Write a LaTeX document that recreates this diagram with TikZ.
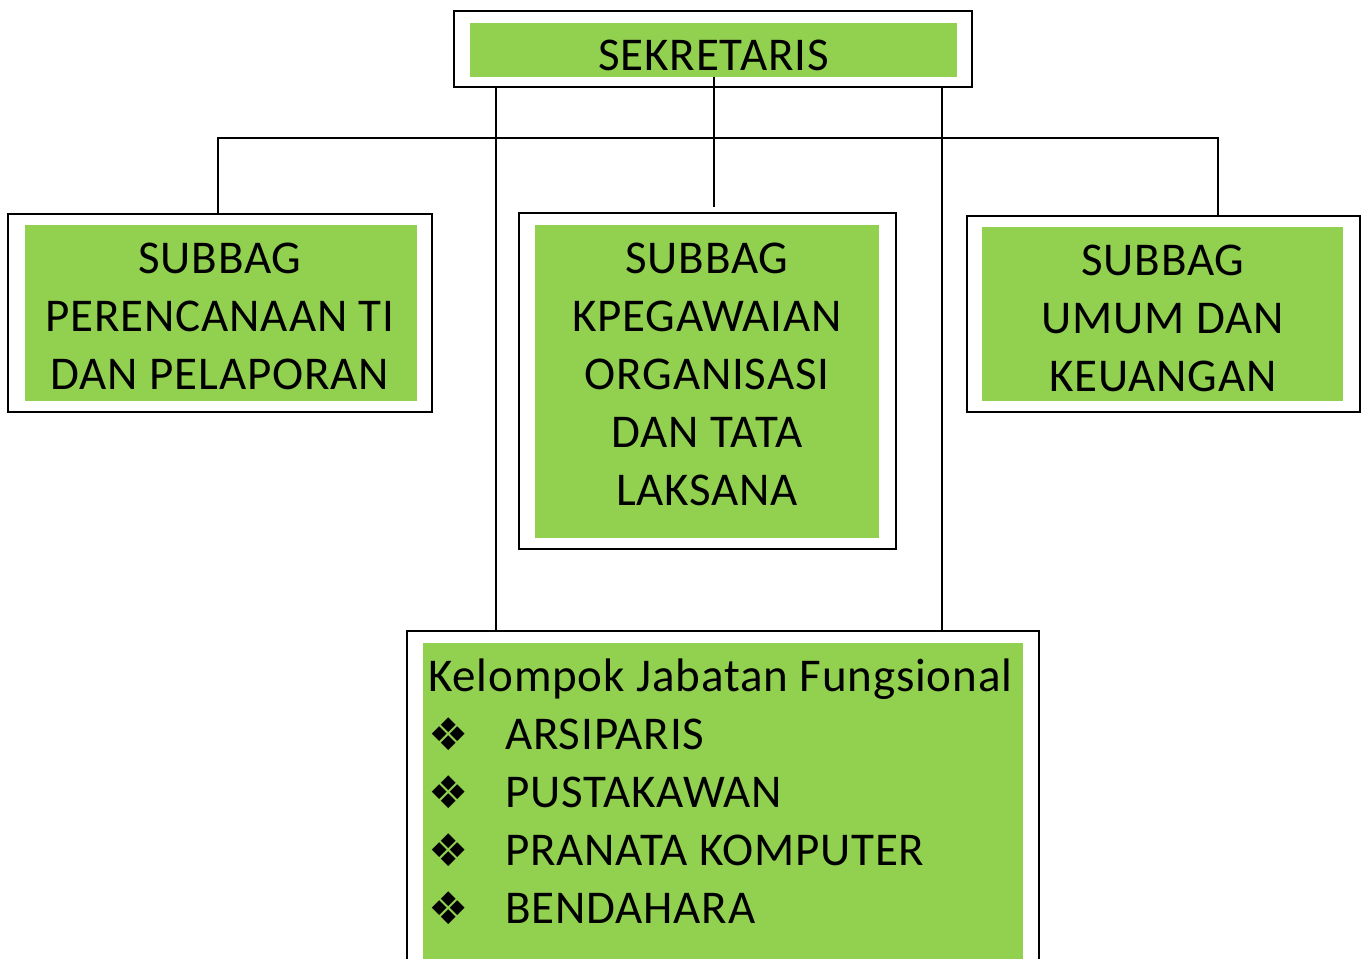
\documentclass[tikz,border=0pt]{standalone}
\usepackage{fontspec}
\setmainfont{Carlito}[LetterSpace=1.8]
\newfontfamily\symfont{DejaVu Sans}
\usetikzlibrary{positioning}
\definecolor{kgreen}{HTML}{92D050}
\newcommand{\orgfont}{\fontsize{47}{58}\selectfont}
\newcommand{\bul}{\makebox[77pt][l]{\raisebox{-1pt}{\symfont\fontsize{45}{45}\selectfont ❖}}}

\begin{document}
\begin{tikzpicture}[x=1pt, y=-1pt,
  frame/.style={draw, line width=2.5pt, inner sep=0pt},
  panel/.style={fill=kgreen, inner sep=0pt},
  boxtext/.style={align=center, inner sep=0pt, font=\orgfont},
  listtext/.style={align=left, inner sep=0pt, font=\orgfont},
  link/.style={line width=2pt}]
  \useasboundingbox (0,0) rectangle (1362,958);
  \clip (0,0) rectangle (1362,958);

  % sekretaris
  \node[frame, minimum width=518, minimum height=76] (sekF) at (713,49) {};
  \node[panel, minimum width=487, minimum height=54] (sekP) at (713.5,50) {};
  \node[boxtext] (sek) at (713.5,55) {SEKRETARIS};

  % subbag
  \node[frame, minimum width=424, minimum height=198] (perF) at (220,313) {};
  \node[panel, minimum width=392, minimum height=176] (perP) at (221,313) {};
  \node[boxtext] (per) at (220,316) {SUBBAG\\PERENCANAAN TI\\DAN PELAPORAN};

  \node[frame, minimum width=377, minimum height=336] (pegF) at (707.5,381) {};
  \node[panel, minimum width=344, minimum height=313] (pegP) at (707,381.5) {};
  \node[boxtext] (peg) at (707,374) {SUBBAG\\KPEGAWAIAN\\ORGANISASI\\DAN TATA\\LAKSANA};

  \node[frame, minimum width=393, minimum height=196] (umF) at (1163.5,314) {};
  \node[panel, minimum width=361, minimum height=174] (umP) at (1162.5,314) {};
  \node[boxtext] (um) at (1163,318) {SUBBAG\\UMUM DAN\\KEUANGAN};

  % fungsional
  \node[frame, minimum width=632, minimum height=360] (jfF) at (723,811) {};
  \node[panel, minimum width=600, minimum height=340] (jfP) at (723,813) {};
  \node[listtext, anchor=north west] (jf) at (428,659)
    {Kelompok Jabatan Fungsional\\
     \bul ARSIPARIS\\
     \bul PUSTAKAWAN\\
     \bul PRANATA KOMPUTER\\
     \bul BENDAHARA};

  % garis
  \coordinate (busL) at (218,138);
  \coordinate (busR) at (1218,138);
  \draw[link] (busL |- perF.north) -- (busL) -- (busR) -- (busR |- umF.north);
  \draw[link] (sekP.south) -- ([yshift=5pt]sekP.south |- pegF.north);
  \draw[link] ([xshift=43pt]sekF.south west) -- ([xshift=43pt]sekF.south west |- jfF.north);
  \draw[link] ([xshift=-31pt]sekF.south east) -- ([xshift=-31pt]sekF.south east |- jfF.north);
\end{tikzpicture}
\end{document}
